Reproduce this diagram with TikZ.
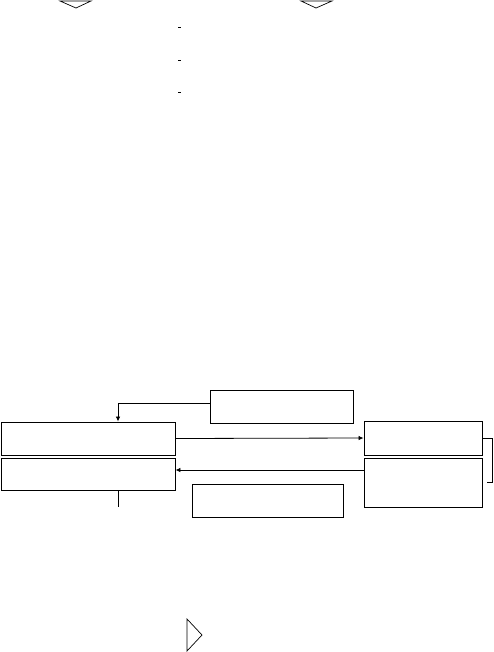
\documentclass[tikz,border=0pt]{standalone}
\usetikzlibrary{arrows.meta}
\begin{document}
\begin{tikzpicture}[x=1pt,y=-1pt,
  box/.style={draw,line width=0.9pt,inner sep=0pt},
  conn/.style={line width=0.8pt},
  arr/.style={conn,-{Latex[length=5pt,width=4.5pt]}},
  tri/.style={draw,line width=0.7pt,line join=miter}]
\useasboundingbox (0,0) rectangle (493,652);
% boxes
\node[box,minimum width=143pt,minimum height=33pt] (T) at (281.5,406.5) {};
\node[box,minimum width=174pt,minimum height=33pt] (L1) at (88,438.5) {};
\node[box,minimum width=174pt,minimum height=32pt] (L2) at (88,474) {};
\node[box,minimum width=151pt,minimum height=33pt] (M) at (267.5,500.5) {};
\node[box,minimum width=118pt,minimum height=34pt] (R1) at (423,438) {};
\node[box,minimum width=118pt,minimum height=49pt] (R2) at (423,482.5) {};
% connectors
\draw[arr] ([yshift=3.5pt]T.west) -| ([xshift=30pt]L1.north);
\draw[arr] (L1.east) -- (R1.west);
\draw[arr] ([yshift=12.5pt]R2.west) -- ([yshift=4pt]L2.east);
\draw[conn] (R1.east) -- ++(10,0) |- ([xshift=5pt]R2.east);
\coordinate (tickA) at ([xshift=30pt]L2.south);
\draw[conn] (tickA) -- ++(0,17);
% triangles
\draw[tri] (60,1) -- (91,1) -- (76,8) -- cycle;
\draw[tri] (301,1) -- (332,1) -- (316,8) -- cycle;
\draw[tri] (187,619) -- (202,635) -- (187,651) -- cycle;
% small dashes
\foreach \yy in {27.5,60,92} \draw[line width=0.8pt] (178,\yy) -- (180.5,\yy);
\end{tikzpicture}
\end{document}
